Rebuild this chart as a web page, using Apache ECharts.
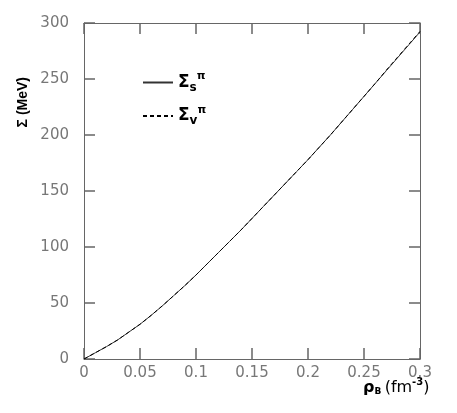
<!DOCTYPE html>
<html><head><meta charset="utf-8">
<script src="https://cdn.jsdelivr.net/npm/echarts@6/dist/echarts.min.js"></script>
<style>html,body{margin:0;padding:0;background:#fff}#c{width:457px;height:413px}</style>
</head><body><div id="c"></div>
<script>
const rho = [0,0.01,0.02,0.03,0.04,0.05,0.06,0.07,0.08,0.09,0.10,0.11,0.12,0.13,0.14,0.15,0.16,0.17,0.18,0.19,0.20,0.21,0.22,0.23,0.24,0.25,0.26,0.27,0.28,0.29,0.30];
const sigmaS = [0,5.5,11,17,24,31,39,47.5,56.5,65.5,75,85,95,105,115,125.5,136,146.5,157,167.5,178,189,200,211.5,223,234.5,246,257.5,269,280.5,292];
const sigmaV = [0,5.5,11,17,24,31,39,47.5,56.5,65.5,75,85,95,105,115,125.5,136,146.5,157,167.5,178,189,200,211.5,223,234.5,246,258,269.5,281,292.5];
const seriesNames = ['s','v'];

function mkAxis(pos, min, max, interval, showLabel, margin){
  return {type:'value',min:min,max:max,interval:interval,position:pos,
    axisLine:{show:true,onZero:false,lineStyle:{color:'#666',width:1}},
    axisTick:{show:true,inside:true,length:11,lineStyle:{color:'#666',width:1.5}},
    splitLine:{show:false},
    axisLabel:{show:showLabel,margin:margin,fontFamily:'DejaVu Sans',fontSize:15,color:'#777',
      formatter:function(v){return String(+Number(v).toFixed(2));}}};
}
const chart = echarts.init(document.getElementById('c'));
chart.setOption({
  animation:false,
  grid:{left:84,right:37,top:23,bottom:54},
  xAxis:[mkAxis('bottom',0,0.3,0.05,true,7), mkAxis('top',0,0.3,0.05,false,7)],
  yAxis:[mkAxis('left',0,300,50,true,15), mkAxis('right',0,300,50,false,15)],
  legend:{
    orient:'vertical',left:137,top:66,itemWidth:30,itemHeight:10,itemGap:11,
    data:seriesNames,
    itemStyle:{opacity:0},
    formatter:function(n){return '{g|Σ}{b|'+n+'}{p|π}';},
    textStyle:{color:'#000',rich:{
      g:{fontFamily:'DejaVu Sans',fontWeight:'bold',fontSize:17,color:'#000'},
      b:{fontFamily:'DejaVu Sans',fontWeight:'bold',fontSize:12,color:'#000',padding:[10,0,0,0]},
      p:{fontFamily:'DejaVu Sans',fontWeight:'bold',fontSize:11,color:'#000',padding:[0,0,12,0]}
    }}
  },
  graphic:[
    {type:'text',left:16,top:77,rotation:Math.PI/2,style:{text:'Σ (MeV)',fontFamily:'Liberation Sans',fontWeight:'bold',fontSize:14,fill:'#000'}},
    {type:'text',left:363,top:377,style:{text:'{r|ρ}{b|B} {t|(fm}{p|-3}{t|)}',rich:{
      r:{fontFamily:'DejaVu Sans',fontWeight:'bold',fontSize:16,fill:'#000'},
      b:{fontFamily:'DejaVu Sans',fontWeight:'bold',fontSize:9,fill:'#000',padding:[8,0,0,0]},
      t:{fontFamily:'DejaVu Sans',fontSize:16,fill:'#000'},
      p:{fontFamily:'DejaVu Sans',fontWeight:'bold',fontSize:10,fill:'#000',padding:[0,0,12,0]}
    }}}
  ],
  series:[
    {name:'s',type:'line',symbol:'none',data:rho.map(function(x,i){return [x,sigmaS[i]];}),lineStyle:{color:'#333',width:1},itemStyle:{color:'#333'}},
    {name:'v',type:'line',symbol:'none',data:rho.map(function(x,i){return [x,sigmaV[i]];}),lineStyle:{color:'#000',width:1,type:[4,3]},itemStyle:{color:'#000'}}
  ]
});
</script></body></html>
